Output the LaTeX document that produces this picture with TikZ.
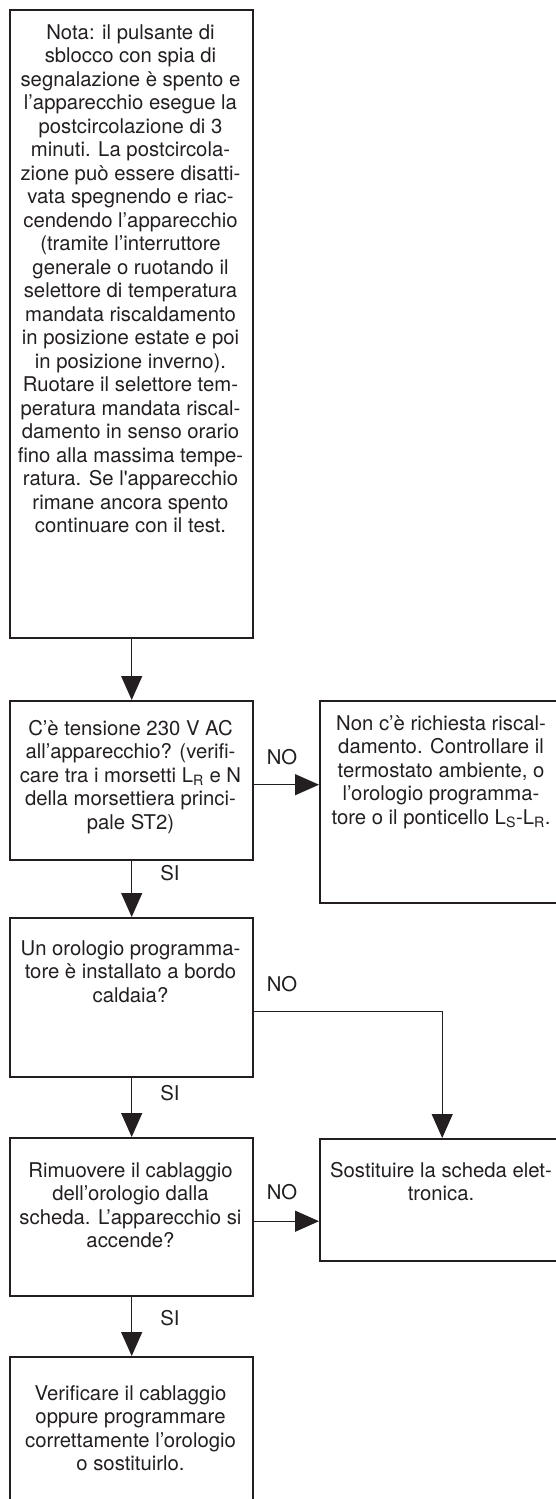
\documentclass[tikz,border=0pt]{standalone}
\usepackage{fontspec}
\setmainfont{TeX Gyre Heros}
\usetikzlibrary{arrows.meta}
\definecolor{ink}{HTML}{231F20}
\newcommand{\fs}{\rule{0pt}{18pt}}
\begin{document}
\begin{tikzpicture}[x=1pt,y=-1pt,
  box/.style={draw=ink, line width=2.4pt, rectangle, inner sep=0pt, anchor=north west, minimum width=243pt},
  txt/.style={anchor=north, inner sep=0pt, align=center, text=ink, font=\fontsize{20.3}{23.5}\selectfont},
  lab/.style={inner sep=0pt, text=ink, font=\fontsize{20.3}{23.5}\selectfont},
  conn/.style={draw=ink, line width=1.3pt, -{Triangle[length=24pt,width=21pt]}},
  line/.style={draw=ink, line width=1.3pt}
]
\useasboundingbox (0,0) rectangle (556,1499);

% boxes
\node[box, minimum height=628pt] (b1) at (9,9) {};
\node[box, minimum height=159pt] (b2) at (9,700) {};
\node[box, minimum height=202pt, minimum width=244pt] (b3) at (319,700) {};
\node[box, minimum height=159pt] (b4) at (9,917) {};
\node[box, minimum height=158pt] (b5) at (9,1137) {};
\node[box, minimum height=122pt, minimum width=244pt] (b6) at (319,1138) {};
\node[box, minimum height=170pt] (b7) at (9,1356) {};

% texts
\node[txt] (t1) at (130.5,21) {\fs Nota: il pulsante di\\
sblocco con spia di\\
segnalazione è spento e\\
l’apparecchio esegue la\\
postcircolazione di 3\\
minuti. La postcircola-\\
zione può essere disatti-\\
vata spegnendo e riac-\\
cendendo l’apparecchio\\
(tramite l’interruttore\\
generale o ruotando il\\
selettore di temperatura\\
mandata riscaldamento\\
in posizione estate e poi\\
in posizione inverno).\\
Ruotare il selettore tem-\\
peratura mandata riscal-\\
damento in senso orario\\
fino alla massima tempe-\\
ratura. Se l\textquotesingle apparecchio\\
rimane ancora spento\\
continuare con il test.};

\node[txt] (t2) at (130.5,717) {\fs C’è tensione 230 V AC\\
all’apparecchio? (verifi-\\
care tra i morsetti L\textsubscript{R} e N\\
della morsettiera princi-\\
pale ST2)};

\node[txt] (t3) at (441,712) {\fs Non c’è richiesta riscal-\\
damento. Controllare il\\
termostato ambiente, o\\
l’orologio programma-\\
tore o il ponticello L\textsubscript{S}-L\textsubscript{R}.};

\node[txt] (t4) at (130.5,937) {\fs Un orologio programma-\\
tore è installato a bordo\\
caldaia?};

\node[txt] (t5) at (130.5,1159) {\fs Rimuovere il cablaggio\\
dell’orologio dalla\\
scheda. L’apparecchio si\\
accende?};

\node[txt] (t6) at (441,1159) {\fs Sostituire la scheda elet-\\
tronica.};

\node[txt] (t7) at (130.5,1382) {\fs Verificare il cablaggio\\
oppure programmare\\
correttamente l’orologio\\
o sostituirlo.};

% connectors
\draw[conn] (b1.south) -- (b2.north);
\draw[conn] ([yshift=-4pt]b2.east) -- ([yshift=-4pt]b2.east -| b3.west);
\draw[conn] (b2.south) -- (b4.north);
\draw[conn] ([yshift=-13.5pt]b4.east) -| (b6.north);
\draw[conn] (b4.south) -- (b5.north);
\draw[conn] ([yshift=-4pt]b5.east) -- ([yshift=-4pt]b5.east -| b6.west);
\draw[conn] (b5.south) -- (b7.north);

% labels
\node[lab] (l1) at (282,757) {NO};
\node[lab] (l2) at (170,873) {SI};
\node[lab] (l3) at (282,984) {NO};
\node[lab] (l4) at (170,1093) {SI};
\node[lab] (l5) at (282,1192) {NO};
\node[lab] (l6) at (170,1318) {SI};
\end{tikzpicture}
\end{document}
